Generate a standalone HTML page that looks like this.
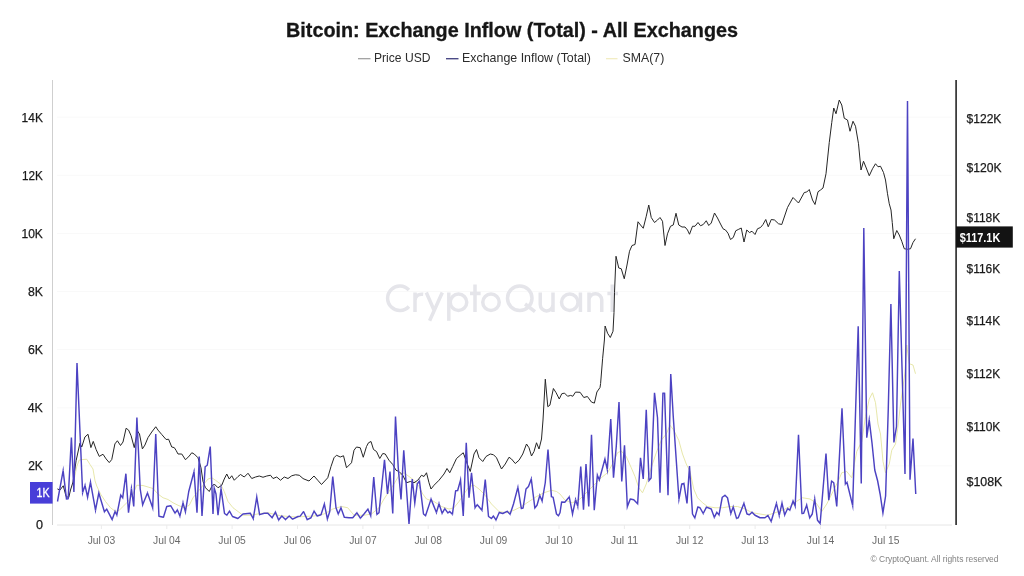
<!DOCTYPE html>
<html><head><meta charset="utf-8"><title>Bitcoin: Exchange Inflow (Total) - All Exchanges</title>
<style>
html,body{margin:0;padding:0;background:#fff;}
body{width:1024px;height:576px;overflow:hidden;font-family:"Liberation Sans",sans-serif;}
svg{display:block;will-change:transform;}
text{font-family:"Liberation Sans",sans-serif;}
.title{font-size:19.5px;font-weight:bold;fill:#161616;stroke:#161616;stroke-width:0.3px;}
.lg{font-size:12.4px;fill:#2c2c2c;}
.ax{font-size:12.5px;fill:#1a1a1a;stroke:#1a1a1a;stroke-width:0.25px;}
.xl{font-size:11px;fill:#6a6a6a;}
.wm{font-size:38px;fill:#e4e4e9;stroke:#e4e4e9;stroke-width:1px;}
.cr{font-size:9.4px;fill:#828282;}
</style></head><body>
<svg width="1024" height="576" viewBox="0 0 1024 576">
<rect width="1024" height="576" fill="#ffffff"/>
<text x="512" y="36.6" text-anchor="middle" class="title" textLength="452" lengthAdjust="spacingAndGlyphs">Bitcoin: Exchange Inflow (Total) - All Exchanges</text>
<line x1="358" x2="370.5" y1="58.7" y2="58.7" stroke="#9a9a9a" stroke-width="1.2"/>
<text x="374" y="61.8" class="lg" textLength="56.5" lengthAdjust="spacingAndGlyphs">Price USD</text>
<line x1="446" x2="458.5" y1="58.7" y2="58.7" stroke="#4b4a86" stroke-width="1.4"/>
<text x="462" y="61.8" class="lg" textLength="129" lengthAdjust="spacingAndGlyphs">Exchange Inflow (Total)</text>
<line x1="606" x2="617.5" y1="58.7" y2="58.7" stroke="#f1ebbe" stroke-width="1.2"/>
<text x="622.6" y="61.8" class="lg" textLength="41.7" lengthAdjust="spacingAndGlyphs">SMA(7)</text>
<line x1="57" x2="952" y1="117.2" y2="117.2" stroke="#f9f9f9" stroke-width="1"/><line x1="57" x2="952" y1="175.3" y2="175.3" stroke="#f9f9f9" stroke-width="1"/><line x1="57" x2="952" y1="233.5" y2="233.5" stroke="#f9f9f9" stroke-width="1"/><line x1="57" x2="952" y1="291.5" y2="291.5" stroke="#f9f9f9" stroke-width="1"/><line x1="57" x2="952" y1="349.6" y2="349.6" stroke="#f9f9f9" stroke-width="1"/><line x1="57" x2="952" y1="407.8" y2="407.8" stroke="#f9f9f9" stroke-width="1"/><line x1="57" x2="952" y1="465.8" y2="465.8" stroke="#f9f9f9" stroke-width="1"/>
<g fill="none" stroke="#e5e5ea" stroke-width="3.5" stroke-linecap="butt" stroke-linejoin="round">
<path d="M408.9,290.0 A12.25,12.25 0 1 0 408.9,306.5"/>
<path d="M415,312 V292.5 M415,300.5 Q415.3,293.6 423.2,294.3"/>
<path d="M426.3,292.5 L434.2,310.5 M442.3,292.5 L429.6,320.8"/>
<path d="M448.8,292.5 V320.8"/><circle cx="458.5" cy="302.25" r="8.25"/>
<path d="M475,284.5 V312 M470,293.6 H480.6"/>
<circle cx="491" cy="302.25" r="8.25"/>
<circle cx="519.75" cy="298.25" r="12.25"/><path d="M525,304 L535,311.6"/>
<path d="M540.25,292.5 V304.6 a6.375,6.375 0 0 0 12.75,0 M553,292.5 V312"/>
<circle cx="569.75" cy="302.25" r="8.25"/><path d="M580.4,292.5 V312"/>
<path d="M589,312 V292.5 M589,300 a6.375,6.375 0 0 1 12.75,0 V312"/>
<path d="M612.3,284.5 V312 M607.4,293.6 H618"/>
</g>
<line x1="57" x2="952" y1="525" y2="525" stroke="#e6e6e6" stroke-width="1"/>
<line x1="52.5" x2="52.5" y1="80" y2="525" stroke="#cfcfcf" stroke-width="1"/>
<text x="101.4" y="544.1" text-anchor="middle" class="xl" textLength="27.5" lengthAdjust="spacingAndGlyphs">Jul 03</text><line x1="101.4" x2="101.4" y1="525" y2="529" stroke="#ebebeb" stroke-width="1"/><text x="166.8" y="544.1" text-anchor="middle" class="xl" textLength="27.5" lengthAdjust="spacingAndGlyphs">Jul 04</text><line x1="166.8" x2="166.8" y1="525" y2="529" stroke="#ebebeb" stroke-width="1"/><text x="232.1" y="544.1" text-anchor="middle" class="xl" textLength="27.5" lengthAdjust="spacingAndGlyphs">Jul 05</text><line x1="232.1" x2="232.1" y1="525" y2="529" stroke="#ebebeb" stroke-width="1"/><text x="297.5" y="544.1" text-anchor="middle" class="xl" textLength="27.5" lengthAdjust="spacingAndGlyphs">Jul 06</text><line x1="297.5" x2="297.5" y1="525" y2="529" stroke="#ebebeb" stroke-width="1"/><text x="362.9" y="544.1" text-anchor="middle" class="xl" textLength="27.5" lengthAdjust="spacingAndGlyphs">Jul 07</text><line x1="362.9" x2="362.9" y1="525" y2="529" stroke="#ebebeb" stroke-width="1"/><text x="428.2" y="544.1" text-anchor="middle" class="xl" textLength="27.5" lengthAdjust="spacingAndGlyphs">Jul 08</text><line x1="428.2" x2="428.2" y1="525" y2="529" stroke="#ebebeb" stroke-width="1"/><text x="493.6" y="544.1" text-anchor="middle" class="xl" textLength="27.5" lengthAdjust="spacingAndGlyphs">Jul 09</text><line x1="493.6" x2="493.6" y1="525" y2="529" stroke="#ebebeb" stroke-width="1"/><text x="559.0" y="544.1" text-anchor="middle" class="xl" textLength="27.5" lengthAdjust="spacingAndGlyphs">Jul 10</text><line x1="559.0" x2="559.0" y1="525" y2="529" stroke="#ebebeb" stroke-width="1"/><text x="624.4" y="544.1" text-anchor="middle" class="xl" textLength="27.5" lengthAdjust="spacingAndGlyphs">Jul 11</text><line x1="624.4" x2="624.4" y1="525" y2="529" stroke="#ebebeb" stroke-width="1"/><text x="689.7" y="544.1" text-anchor="middle" class="xl" textLength="27.5" lengthAdjust="spacingAndGlyphs">Jul 12</text><line x1="689.7" x2="689.7" y1="525" y2="529" stroke="#ebebeb" stroke-width="1"/><text x="755.1" y="544.1" text-anchor="middle" class="xl" textLength="27.5" lengthAdjust="spacingAndGlyphs">Jul 13</text><line x1="755.1" x2="755.1" y1="525" y2="529" stroke="#ebebeb" stroke-width="1"/><text x="820.5" y="544.1" text-anchor="middle" class="xl" textLength="27.5" lengthAdjust="spacingAndGlyphs">Jul 14</text><line x1="820.5" x2="820.5" y1="525" y2="529" stroke="#ebebeb" stroke-width="1"/><text x="885.8" y="544.1" text-anchor="middle" class="xl" textLength="27.5" lengthAdjust="spacingAndGlyphs">Jul 15</text><line x1="885.8" x2="885.8" y1="525" y2="529" stroke="#ebebeb" stroke-width="1"/>
<polyline fill="none" stroke="#e4e4a2" stroke-width="0.9" stroke-linejoin="round" points="73.75,481.50 76.75,466.50 79.25,460.00 83.00,459.50 86.75,459.25 90.00,464.50 93.00,469.00 95.00,480.75 96.75,486.00 100.50,494.00 105.50,501.50 110.50,507.75 115.50,511.50 119.25,510.25 123.00,506.50 128.00,501.50 133.00,494.00 136.75,485.25 143.00,485.50 148.00,487.00 153.00,488.50 158.00,494.00 163.00,497.75 168.00,499.50 173.00,502.75 178.00,505.25 184.25,507.75 189.25,505.25 193.00,497.75 198.00,491.50 203.00,485.25 208.00,479.00 211.75,477.75 215.50,480.25 220.50,484.00 224.25,491.50 228.00,501.50 233.00,507.75 238.00,511.50 243.00,515.25 250.50,515.25 260.50,513.50 268.00,512.75 278.00,515.25 288.00,516.50 298.00,517.00 304.00,516.50 314.00,516.00 324.00,514.00 332.75,509.00 341.50,506.50 347.75,507.75 354.00,515.25 364.00,515.25 371.50,514.00 379.00,507.75 384.00,499.00 389.00,491.50 394.00,484.00 399.00,475.25 404.00,472.75 409.00,476.50 414.00,480.25 419.00,486.50 422.75,494.00 426.50,499.00 434.00,501.50 441.50,506.50 449.00,509.00 454.00,507.75 459.00,501.50 464.00,494.00 469.00,486.50 474.00,485.25 479.00,489.00 484.00,494.00 491.50,504.00 499.00,511.50 506.50,512.75 514.00,510.25 521.50,506.50 529.00,501.50 536.50,496.50 544.00,492.75 551.50,490.25 556.50,491.50 560.00,494.00 565.00,500.25 572.50,502.75 580.00,499.00 587.50,491.50 595.00,484.00 601.25,477.75 607.50,472.75 612.50,464.00 617.50,452.75 621.25,451.00 626.25,456.50 631.25,467.75 635.00,476.50 638.75,487.75 642.50,492.75 646.25,484.00 651.25,467.75 656.25,452.75 661.25,440.25 666.25,434.00 670.00,425.25 673.75,430.25 678.75,440.25 682.50,454.00 686.25,464.00 690.00,471.50 693.75,489.00 697.50,497.75 702.50,502.75 707.50,506.50 715.00,507.75 722.50,507.75 730.00,506.50 737.50,506.50 745.00,509.00 752.50,512.75 760.00,514.00 767.50,515.25 775.00,512.75 782.50,510.25 790.00,506.50 796.25,501.50 802.50,497.75 810.00,499.00 816.00,502.75 821.75,511.50 826.75,504.00 833.00,491.50 838.00,481.50 841.75,472.75 846.75,471.50 851.75,477.75 856.75,451.50 861.75,441.50 865.50,416.50 869.25,399.00 872.50,392.75 875.50,402.75 878.00,424.00 880.50,434.00 883.00,461.50 885.50,472.75 889.25,464.00 891.75,450.25 895.50,444.00 898.00,426.50 900.50,404.00 903.00,386.50 905.00,372.00 906.75,345.00 909.25,363.75 913.00,365.00 915.50,373.75"/>
<polyline fill="none" stroke="#262626" stroke-width="1.0" stroke-linejoin="round" points="57.40,488.90 59.90,490.10 63.25,485.75 66.10,496.50 68.75,497.50 70.50,490.00 73.00,482.00 76.10,460.75 79.90,443.25 81.75,447.00 84.90,437.00 88.00,434.25 90.90,447.60 93.25,441.40 96.10,449.50 99.25,456.40 103.00,454.25 106.10,458.90 109.25,462.60 111.75,459.50 114.90,443.90 117.40,440.75 120.50,445.50 123.00,442.00 126.10,428.25 128.60,430.10 131.10,435.75 134.25,447.60 137.50,431.00 139.50,434.00 142.40,448.90 144.90,445.10 148.00,437.60 151.75,432.00 155.75,426.75 158.00,430.10 161.75,434.50 166.10,439.50 168.60,439.25 171.75,447.00 174.25,447.60 176.00,450.25 178.00,454.00 181.75,454.00 185.50,459.75 189.25,456.00 191.75,452.75 194.25,454.00 198.00,457.75 201.00,467.75 203.00,481.50 205.50,487.75 209.25,491.50 211.75,486.50 214.25,484.00 218.00,487.75 221.75,485.25 224.25,479.00 226.75,474.00 229.25,479.00 231.75,475.75 234.25,480.25 238.00,476.50 240.50,474.50 244.25,477.00 248.00,473.25 251.75,478.50 255.50,477.00 259.25,476.00 263.00,477.25 266.75,476.00 270.50,475.25 273.00,478.50 276.75,477.00 280.50,480.25 284.25,477.00 288.00,478.50 291.75,475.75 295.50,474.75 299.25,475.25 303.00,478.50 304.00,479.00 309.00,481.00 314.00,476.00 317.75,480.25 321.50,484.50 327.75,477.75 331.00,466.50 334.00,457.75 336.50,455.25 340.25,457.00 343.50,455.75 346.50,467.75 351.50,462.75 354.00,450.25 356.50,447.00 360.25,447.75 363.25,457.25 366.50,446.50 368.50,442.75 371.00,441.50 373.50,449.50 376.50,451.50 379.75,458.50 382.75,453.50 385.25,454.00 389.00,460.25 392.75,464.50 396.00,470.25 399.00,471.50 402.75,475.25 406.50,482.75 410.25,481.50 414.00,482.75 417.75,480.25 421.50,475.25 424.00,476.50 426.50,472.75 429.00,482.75 431.00,489.00 434.00,485.25 439.00,480.25 444.00,474.00 447.00,468.50 449.75,472.75 452.75,466.50 456.50,458.50 460.25,455.25 463.25,452.75 467.75,465.25 470.25,471.50 474.00,454.00 476.50,449.50 479.00,457.75 482.75,461.50 486.00,456.50 490.25,454.00 493.50,454.75 496.50,457.75 501.50,469.00 505.25,464.00 509.00,457.25 511.50,459.00 515.25,463.50 519.00,460.25 522.75,454.00 526.50,444.00 529.00,447.75 531.50,456.00 534.00,451.50 536.50,442.75 539.00,449.00 541.50,439.00 543.00,420.00 545.30,379.20 547.80,406.70 549.90,405.20 553.40,388.50 556.10,392.70 559.25,399.00 561.75,393.75 564.50,393.10 567.60,396.25 570.70,395.40 572.80,396.25 575.50,392.10 580.10,392.30 583.80,397.50 587.40,396.50 591.50,402.10 594.40,403.10 596.90,392.00 600.00,387.50 600.60,383.50 602.60,358.75 604.40,340.00 605.10,326.00 607.60,333.30 610.30,337.50 613.00,331.25 614.00,312.50 614.50,292.50 616.00,256.25 618.75,268.00 621.25,268.75 624.25,278.75 627.00,265.00 629.50,251.25 632.00,245.50 635.00,244.50 638.00,221.75 640.50,225.00 643.25,228.25 646.25,216.25 648.75,205.00 651.25,217.50 654.50,222.50 657.50,220.00 660.00,217.50 662.50,221.25 665.00,245.50 667.50,233.75 670.50,226.25 673.25,225.00 676.00,213.25 678.75,225.00 682.00,227.00 685.00,227.00 687.50,230.00 689.50,234.25 692.50,226.25 695.00,226.25 698.00,222.50 700.50,225.75 703.25,224.50 706.25,220.75 708.75,225.50 711.25,223.00 714.50,213.00 717.50,218.00 720.00,223.00 723.00,228.75 725.50,230.00 728.00,233.25 730.50,239.50 733.25,237.50 735.75,230.75 738.75,229.25 741.25,228.00 744.00,242.00 746.75,230.00 749.50,232.50 752.00,231.25 755.00,234.50 757.50,228.75 760.50,227.50 763.00,224.50 765.75,219.50 768.25,226.75 771.25,219.50 774.50,220.00 778.50,223.75 781.75,224.50 787.50,207.50 793.00,197.50 798.50,203.00 804.25,192.50 806.75,192.00 809.25,189.50 812.50,200.00 815.00,204.50 818.00,191.75 820.50,190.00 823.00,188.00 826.00,173.75 829.25,142.50 831.75,122.50 833.75,108.00 836.00,113.75 839.25,100.00 841.75,105.00 844.25,118.25 847.50,120.00 850.00,131.25 853.00,121.25 855.50,126.25 858.50,143.75 861.00,170.00 863.50,161.25 866.25,168.00 869.25,175.75 872.50,168.75 875.50,163.75 878.00,166.75 880.50,166.25 883.50,172.50 885.50,180.00 887.50,193.75 889.25,203.75 891.00,210.00 892.25,222.50 893.75,238.75 896.75,230.50 899.25,235.00 901.75,241.25 904.25,248.75 907.50,249.25 910.50,248.75 913.00,242.50 915.50,238.75"/>
<polyline fill="none" stroke="#4c42c2" stroke-width="1.45" stroke-linejoin="bevel" points="57.50,501.50 63.13,470.68 66.49,499.06 68.18,498.70 71.40,437.60 73.90,492.00 77.00,363.00 82.62,492.49 85.01,485.44 87.58,496.99 90.50,482.26 95.50,510.09 98.80,493.01 104.42,511.72 106.69,509.12 112.16,519.55 115.05,511.57 116.84,514.91 120.73,495.22 122.73,497.71 125.90,473.70 128.50,512.75 131.42,488.68 133.75,506.50 136.90,417.60 140.20,489.00 142.67,504.78 147.47,493.03 152.67,507.79 155.75,434.00 158.92,516.18 163.44,517.26 166.75,506.50 170.76,505.74 175.03,513.11 177.39,510.03 179.89,516.08 183.02,502.84 185.44,511.71 188.75,491.50 194.01,471.63 197.00,512.75 199.25,456.50 202.00,516.00 205.17,466.73 207.25,465.25 210.25,446.50 213.00,514.00 214.21,487.84 216.00,494.00 218.00,515.25 221.04,488.70 224.50,513.50 226.85,515.12 229.51,511.15 232.50,516.50 237.91,518.50 243.00,514.00 250.24,513.22 253.27,518.73 256.75,497.15 259.61,514.68 264.25,513.25 267.80,513.19 272.16,517.71 275.43,512.12 278.62,520.02 281.80,515.97 285.50,519.59 289.25,515.92 292.61,519.21 298.00,516.50 300.23,516.11 303.31,511.83 303.66,511.82 307.23,519.65 311.00,517.75 314.04,511.21 317.21,515.98 321.00,514.75 324.38,504.09 327.38,518.93 329.75,511.50 332.75,476.50 336.00,507.75 338.25,513.98 340.96,507.86 344.33,517.34 349.00,517.75 352.75,517.75 356.92,512.77 360.34,518.24 364.00,514.00 367.86,509.13 370.72,515.72 373.75,477.00 376.87,514.42 379.00,512.75 384.50,459.75 387.50,494.00 390.00,471.50 392.75,513.50 395.50,416.50 398.25,467.75 401.00,499.50 403.75,450.25 409.00,524.00 412.25,479.00 414.79,502.81 417.25,484.00 419.45,480.91 423.50,514.00 425.53,515.74 431.04,499.12 436.42,512.51 439.02,503.72 442.11,513.26 444.80,508.66 447.84,512.81 449.71,511.63 452.44,514.20 455.63,490.73 457.66,490.52 460.53,480.11 463.25,516.00 466.25,442.75 469.00,497.75 471.50,472.75 475.05,507.66 477.29,504.78 481.94,510.34 485.25,479.50 488.50,516.50 491.38,518.40 493.45,516.10 495.94,519.94 499.25,512.57 502.71,513.51 507.15,511.32 510.09,514.35 513.50,504.00 517.88,487.43 521.37,508.52 523.10,507.96 526.00,489.00 528.50,486.50 531.27,478.91 534.82,507.92 537.00,505.25 539.79,495.46 542.11,500.99 545.25,482.75 548.00,449.50 551.41,496.63 553.13,497.38 556.50,514.00 558.38,515.79 560.00,512.75 561.61,502.02 564.81,502.26 569.24,496.85 572.52,513.97 575.58,499.75 577.76,506.38 580.75,466.50 583.50,509.75 586.00,464.00 588.75,506.50 591.50,434.75 594.25,510.25 597.35,475.36 599.33,479.77 604.94,459.06 607.30,469.53 610.75,419.00 613.50,477.75 616.25,446.50 619.00,402.00 621.75,481.50 624.50,445.25 627.33,506.63 630.29,499.01 633.75,499.75 637.63,503.74 640.50,457.75 643.25,479.00 646.25,409.75 648.99,480.63 651.10,478.00 654.50,392.75 657.50,417.75 660.00,492.75 662.92,393.12 664.58,393.12 668.00,495.25 670.75,374.00 673.25,416.50 678.95,499.27 681.75,484.00 683.90,483.32 687.00,503.50 689.50,466.00 692.50,514.00 694.82,517.86 697.82,507.06 700.00,507.75 703.20,513.52 706.48,507.06 711.25,509.00 714.28,517.32 716.84,512.41 719.01,514.87 722.25,497.25 724.96,495.31 727.50,497.75 730.82,513.48 733.22,506.90 736.55,518.42 738.25,517.75 743.94,503.35 747.00,514.00 749.35,514.75 752.03,512.16 755.00,515.25 760.00,517.75 765.00,517.75 767.84,515.44 771.14,521.48 776.43,503.42 779.24,515.45 782.00,503.11 784.65,514.94 787.65,508.54 789.80,510.16 793.03,501.15 795.17,506.00 798.50,434.75 801.92,513.55 803.65,513.17 806.66,505.21 809.71,517.88 812.25,514.00 814.70,498.77 817.50,520.25 820.15,523.41 826.00,453.50 828.75,500.25 831.57,481.05 833.75,482.75 836.75,506.50 842.00,408.25 845.38,484.02 847.03,482.52 852.67,505.56 858.20,326.25 861.25,483.50 863.80,228.00 866.75,437.75 869.22,419.89 872.00,443.00 874.75,470.00 877.60,480.75 880.20,494.50 882.92,512.88 885.60,496.00 888.30,408.00 890.90,304.00 893.90,442.50 896.50,426.50 899.30,271.00 905.00,474.00 907.50,101.00 910.00,479.75 913.00,438.50 915.75,494.00"/>
<g fill="#4c42c2"><polygon points="62.42,470.55 63.33,465.55 63.85,470.60"/><polygon points="65.77,499.13 65.84,499.80 66.51,499.78"/><polygon points="68.44,499.37 68.88,499.20 68.90,498.73"/><polygon points="81.89,492.52 82.09,497.11 83.31,492.68"/><polygon points="84.32,485.25 85.16,482.20 85.73,485.31"/><polygon points="86.87,497.12 87.61,501.18 88.30,497.11"/><polygon points="89.78,482.14 90.50,477.83 91.21,482.14"/><polygon points="94.79,510.21 95.50,514.52 96.22,510.21"/><polygon points="98.09,492.89 98.63,489.66 99.50,492.82"/><polygon points="103.72,511.92 104.14,513.44 105.02,512.13"/><polygon points="106.08,508.72 106.79,507.67 107.34,508.81"/><polygon points="111.51,519.87 112.31,521.55 112.85,519.77"/><polygon points="114.36,511.35 114.97,509.37 115.73,511.30"/><polygon points="116.16,515.18 117.11,517.57 117.55,515.04"/><polygon points="120.01,495.09 120.35,493.18 121.35,494.85"/><polygon points="122.11,498.09 123.18,499.87 123.45,497.81"/><polygon points="130.70,488.59 131.39,482.88 132.14,488.58"/><polygon points="141.95,504.89 142.39,507.65 143.35,505.03"/><polygon points="146.79,492.78 147.52,490.81 148.16,492.81"/><polygon points="151.98,508.01 153.22,511.89 153.39,507.82"/><polygon points="158.20,516.21 158.22,516.71 158.70,516.87"/><polygon points="163.33,517.98 163.95,518.07 164.14,517.48"/><polygon points="170.63,505.03 171.16,504.92 171.41,505.41"/><polygon points="174.39,513.44 174.98,514.60 175.65,513.48"/><polygon points="176.77,509.65 177.57,508.31 178.08,509.80"/><polygon points="179.21,516.31 180.07,518.87 180.60,516.23"/><polygon points="182.31,502.70 182.99,499.35 183.73,502.68"/><polygon points="184.73,511.86 185.54,515.53 186.15,511.82"/><polygon points="193.30,471.44 194.41,467.25 194.73,471.57"/><polygon points="204.45,466.69 204.47,466.34 204.75,466.14"/><polygon points="213.49,487.81 213.69,483.44 214.91,487.64"/><polygon points="220.32,488.62 220.97,482.95 221.76,488.60"/><polygon points="226.44,515.72 227.10,516.17 227.49,515.46"/><polygon points="228.87,510.80 229.50,509.65 230.14,510.80"/><polygon points="237.66,519.18 238.06,519.33 238.39,519.04"/><polygon points="250.16,512.50 250.68,512.44 250.89,512.91"/><polygon points="252.62,519.04 253.65,521.27 253.99,518.83"/><polygon points="256.03,497.05 256.75,491.90 257.46,497.05"/><polygon points="258.89,514.78 259.01,515.63 259.82,515.38"/><polygon points="267.79,512.46 268.13,512.46 268.36,512.72"/><polygon points="271.60,518.18 272.31,519.03 272.81,518.03"/><polygon points="274.78,511.80 275.55,510.25 276.11,511.88"/><polygon points="277.94,520.26 278.42,521.65 279.23,520.42"/><polygon points="281.19,515.57 281.72,514.77 282.35,515.50"/><polygon points="284.95,520.06 285.50,520.69 286.05,520.06"/><polygon points="288.70,515.44 289.25,514.80 289.80,515.45"/><polygon points="292.06,519.68 292.43,520.11 292.94,519.86"/><polygon points="300.36,516.82 300.68,516.76 300.85,516.48"/><polygon points="302.68,511.46 302.80,511.28 302.99,511.18"/><polygon points="303.97,511.16 304.23,511.29 304.33,511.55"/><polygon points="306.56,519.91 306.85,520.65 307.56,520.30"/><polygon points="313.38,510.90 313.98,509.61 314.67,510.85"/><polygon points="316.57,516.33 316.86,516.85 317.43,516.67"/><polygon points="323.68,503.87 324.58,501.03 325.09,503.96"/><polygon points="326.66,519.05 327.17,521.97 328.07,519.15"/><polygon points="337.57,514.23 338.25,516.10 338.93,514.23"/><polygon points="340.28,507.61 341.02,505.59 341.66,507.65"/><polygon points="343.64,517.55 343.78,518.02 344.27,518.06"/><polygon points="356.36,512.31 357.05,511.48 357.56,512.43"/><polygon points="359.70,518.58 360.19,519.51 360.88,518.71"/><polygon points="367.29,508.68 368.09,507.66 368.54,508.88"/><polygon points="370.04,515.97 371.18,519.11 371.45,515.78"/><polygon points="376.14,514.48 376.26,515.81 377.31,514.99"/><polygon points="414.07,502.89 414.72,508.96 415.51,502.91"/><polygon points="418.86,480.49 419.95,478.97 420.17,480.82"/><polygon points="425.06,516.29 425.90,517.01 426.22,515.95"/><polygon points="430.34,498.91 430.97,496.84 431.72,498.87"/><polygon points="435.74,512.76 436.56,514.99 437.12,512.69"/><polygon points="438.32,503.55 438.98,500.85 439.72,503.53"/><polygon points="441.41,513.46 441.93,515.33 442.76,513.58"/><polygon points="444.14,508.35 444.72,507.14 445.42,508.28"/><polygon points="447.22,513.19 447.69,513.96 448.34,513.34"/><polygon points="449.21,511.11 449.77,510.58 450.27,511.17"/><polygon points="451.88,514.67 452.96,515.95 453.16,514.29"/><polygon points="454.91,490.65 455.00,489.93 455.71,490.01"/><polygon points="457.58,491.24 458.22,491.32 458.37,490.69"/><polygon points="459.82,479.94 460.90,475.33 461.25,480.05"/><polygon points="474.33,507.74 474.55,509.90 475.67,508.04"/><polygon points="476.67,504.41 477.23,503.48 477.87,504.35"/><polygon points="481.35,510.77 482.46,512.27 482.66,510.42"/><polygon points="490.98,519.00 491.58,519.40 491.98,518.80"/><polygon points="492.85,515.69 493.53,514.68 494.09,515.76"/><polygon points="495.30,520.28 496.04,521.71 496.62,520.20"/><polygon points="498.57,512.31 498.84,511.62 499.52,511.90"/><polygon points="502.44,514.19 502.78,514.32 503.09,514.13"/><polygon points="506.77,510.70 507.32,510.37 507.72,510.87"/><polygon points="509.52,514.80 510.36,515.85 510.78,514.57"/><polygon points="517.17,487.24 518.08,483.80 518.59,487.32"/><polygon points="520.65,508.62 520.75,509.32 521.46,509.24"/><polygon points="523.43,508.61 523.76,508.44 523.82,508.07"/><polygon points="530.59,478.66 531.65,475.72 531.99,478.83"/><polygon points="534.10,508.00 534.29,509.73 535.38,508.38"/><polygon points="539.09,495.26 539.73,493.02 540.47,495.23"/><polygon points="541.43,501.22 542.34,503.93 542.83,501.11"/><polygon points="550.69,496.68 550.73,497.25 551.28,497.34"/><polygon points="553.26,496.66 553.74,496.75 553.84,497.23"/><polygon points="557.88,516.32 558.58,516.97 559.02,516.13"/><polygon points="560.89,501.91 561.01,501.15 561.76,501.31"/><polygon points="564.66,502.97 565.12,503.07 565.40,502.69"/><polygon points="568.65,496.43 569.67,495.01 569.96,496.73"/><polygon points="571.81,514.09 572.49,518.19 573.23,514.10"/><polygon points="574.86,499.62 575.45,496.41 576.28,499.57"/><polygon points="577.06,506.56 578.16,510.76 578.48,506.44"/><polygon points="596.63,475.29 596.93,471.91 598.04,475.12"/><polygon points="598.65,480.01 599.44,482.32 600.04,479.95"/><polygon points="604.23,458.88 605.04,455.63 605.65,458.93"/><polygon points="606.59,469.66 607.63,475.34 608.02,469.58"/><polygon points="626.60,506.66 626.78,510.60 628.01,506.85"/><polygon points="629.60,498.78 629.81,498.16 630.44,498.30"/><polygon points="637.11,504.25 638.25,505.42 638.35,503.79"/><polygon points="648.27,480.66 648.34,482.60 649.56,481.08"/><polygon points="662.20,393.10 662.22,392.51 662.80,392.40"/><polygon points="664.70,392.40 665.28,392.50 665.30,393.09"/><polygon points="678.22,499.32 678.62,505.08 679.66,499.41"/><polygon points="683.68,482.63 684.48,482.37 684.61,483.21"/><polygon points="694.20,518.24 695.12,519.76 695.53,518.03"/><polygon points="697.11,506.89 697.29,506.13 698.04,506.36"/><polygon points="702.57,513.87 703.28,515.16 703.87,513.81"/><polygon points="705.81,506.77 706.10,506.12 706.75,506.39"/><polygon points="713.60,517.56 714.23,519.29 714.95,517.60"/><polygon points="716.17,512.12 716.69,510.89 717.44,512.00"/><polygon points="718.41,515.28 719.41,516.76 719.73,515.00"/><polygon points="724.54,494.72 725.03,494.37 725.46,494.79"/><polygon points="730.11,513.63 730.70,516.43 731.52,513.68"/><polygon points="732.52,506.70 733.27,504.15 733.92,506.72"/><polygon points="735.85,518.59 736.05,519.39 736.82,519.09"/><polygon points="743.26,503.08 744.04,501.10 744.63,503.15"/><polygon points="749.13,515.44 749.60,515.59 749.91,515.20"/><polygon points="751.46,511.70 751.98,511.06 752.55,511.65"/><polygon points="767.38,514.88 768.11,514.29 768.50,515.13"/><polygon points="770.48,521.79 771.32,523.59 771.84,521.67"/><polygon points="775.73,503.23 776.54,500.22 777.15,503.28"/><polygon points="778.53,515.59 779.26,519.29 779.95,515.58"/><polygon points="781.29,502.98 782.00,499.17 782.71,502.98"/><polygon points="783.94,515.07 784.40,517.54 785.33,515.21"/><polygon points="786.98,508.27 787.40,507.22 788.18,508.04"/><polygon points="789.28,510.66 790.13,511.56 790.49,510.38"/><polygon points="792.33,500.93 792.98,498.82 793.71,500.91"/><polygon points="794.49,506.23 795.72,509.78 795.89,506.03"/><polygon points="801.19,513.59 801.22,514.30 801.94,514.28"/><polygon points="803.91,513.85 804.23,513.72 804.34,513.39"/><polygon points="805.97,504.99 806.81,502.36 807.37,505.06"/><polygon points="809.00,518.03 809.36,519.75 810.32,518.28"/><polygon points="813.99,498.65 814.78,493.73 815.42,498.67"/><polygon points="819.60,523.88 820.73,525.23 820.88,523.47"/><polygon points="830.85,480.94 831.04,479.71 832.02,480.48"/><polygon points="844.66,484.06 844.75,486.10 845.96,484.46"/><polygon points="846.45,482.08 847.39,480.82 847.74,482.36"/><polygon points="851.96,505.72 853.22,511.29 853.40,505.58"/><polygon points="868.50,419.79 869.27,414.23 869.94,419.80"/><polygon points="882.20,512.99 882.89,517.67 883.63,513.00"/></g>
<line x1="956.1" x2="956.1" y1="80" y2="525" stroke="#262626" stroke-width="1.6"/>
<text x="21.6" y="121.85" class="ax" textLength="21.3" lengthAdjust="spacingAndGlyphs">14K</text><text x="22.0" y="179.95" class="ax" textLength="20.85" lengthAdjust="spacingAndGlyphs">12K</text><text x="21.5" y="238.05" class="ax" textLength="21.4" lengthAdjust="spacingAndGlyphs">10K</text><text x="27.9" y="296.15" class="ax" textLength="15" lengthAdjust="spacingAndGlyphs">8K</text><text x="27.9" y="354.25" class="ax" textLength="15" lengthAdjust="spacingAndGlyphs">6K</text><text x="27.7" y="412.35" class="ax" textLength="15.2" lengthAdjust="spacingAndGlyphs">4K</text><text x="28.2" y="470.45" class="ax" textLength="14.7" lengthAdjust="spacingAndGlyphs">2K</text><text x="35.9" y="528.55" class="ax" textLength="7.0" lengthAdjust="spacingAndGlyphs">0</text>
<text x="966.5" y="122.95" class="ax" textLength="34.9" lengthAdjust="spacingAndGlyphs">$122K</text><text x="966.5" y="172.05" class="ax" textLength="35.1" lengthAdjust="spacingAndGlyphs">$120K</text><text x="966.5" y="221.95" class="ax" textLength="33.75" lengthAdjust="spacingAndGlyphs">$118K</text><text x="966.5" y="272.85" class="ax" textLength="33.6" lengthAdjust="spacingAndGlyphs">$116K</text><text x="966.5" y="324.55" class="ax" textLength="33.6" lengthAdjust="spacingAndGlyphs">$114K</text><text x="966.5" y="377.65" class="ax" textLength="33.6" lengthAdjust="spacingAndGlyphs">$112K</text><text x="966.5" y="431.40" class="ax" textLength="33.8" lengthAdjust="spacingAndGlyphs">$110K</text><text x="966.5" y="485.85" class="ax" textLength="35.9" lengthAdjust="spacingAndGlyphs">$108K</text>
<rect x="30" y="482" width="22.6" height="21.6" fill="#483ed8"/>
<text x="36.6" y="496.9" style="font-size:12.8px;fill:#ffffff;stroke:#ffffff;stroke-width:0.35px;" textLength="13" lengthAdjust="spacingAndGlyphs">1K</text>
<rect x="956" y="226.4" width="56.8" height="21.2" fill="#131313"/>
<text x="959.7" y="241.7" style="font-size:12.6px;font-weight:bold;fill:#ffffff;" textLength="40.6" lengthAdjust="spacingAndGlyphs">$117.1K</text>
<text x="870.5" y="561.6" class="cr" textLength="128" lengthAdjust="spacingAndGlyphs">© CryptoQuant. All rights reserved</text>
</svg>
</body></html>
